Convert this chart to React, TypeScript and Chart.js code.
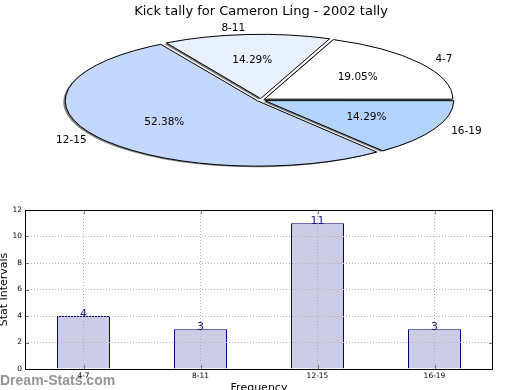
import React, { useEffect, useRef } from 'react';
import { Chart, registerables } from 'chart.js';

Chart.register(...registerables);
Chart.defaults.font.family = '"DejaVu Sans", sans-serif';
Chart.defaults.color = '#000';

// ---- data ----
const chartTitle = 'Kick tally for Cameron Ling - 2002 tally';
const categories = ['4-7', '8-11', '12-15', '16-19'];
const counts = [4, 3, 11, 3];
const sliceColors = ['#ffffff', '#e9f0ff', '#c4d8ff', '#b3d4ff'];
const yTickValues = [0, 2, 4, 6, 8, 10, 12];
const yAxisTitle = 'Stat Intervals';
const xAxisTitle = 'Frequency';
const watermarkText = 'Dream-Stats.com';

// pie drawn counter-clockwise from east in the original -> reverse for Chart.js (clockwise)
const pieLabels = categories.slice().reverse();
const pieValues = counts.slice().reverse();
const pieColors = sliceColors.slice().reverse();

const SQUISH = 0.34;

const squishPlugin: any = {
  id: 'squish',
  beforeDatasetsDraw(chart: any) {
    const ctx = chart.ctx;
    const el = chart.getDatasetMeta(0).data[0];
    const cx = el.x, cy = el.y;
    ctx.save();
    const base = ctx.getTransform();
    ctx.translate(cx, cy);
    ctx.scale(1, SQUISH);
    ctx.translate(-cx, -cy);
    ctx.shadowColor = 'rgba(0,0,0,0.5)';
    ctx.shadowOffsetX = -2;
    ctx.shadowOffsetY = 1;
    ctx.shadowBlur = 0;
    const orig = CanvasRenderingContext2D.prototype.stroke;
    ctx.stroke = function (...args: any[]) {
      const t = this.getTransform();
      const sc = this.shadowColor;
      this.setTransform(base);
      this.shadowColor = 'rgba(0,0,0,0)';
      orig.apply(this, args);
      this.shadowColor = sc;
      this.setTransform(t);
    };
  },
  afterDatasetsDraw(chart: any) {
    const ctx = chart.ctx;
    delete ctx.stroke;
    ctx.restore();
    const meta = chart.getDatasetMeta(0);
    const data: number[] = chart.data.datasets[0].data;
    const labels: string[] = chart.data.labels;
    const total = data.reduce((s, v) => s + v, 0);
    ctx.save();
    ctx.fillStyle = '#000';
    ctx.font = '10.5px "DejaVu Sans"';
    ctx.textBaseline = 'middle';
    meta.data.forEach((el: any, i: number) => {
      const a = (el.startAngle + el.endAngle) / 2;
      const off = (el.options.offset || 0) / 4;
      const R = el.outerRadius;
      const ca = Math.cos(a), sa = Math.sin(a);
      // outer label
      const lr = off + 1.1 * R;
      ctx.textAlign = ca > 0 ? 'left' : 'right';
      ctx.fillText(labels[i], el.x + ca * lr, el.y + SQUISH * sa * lr);
      // percent
      const pr = off + 0.6 * R;
      ctx.textAlign = 'center';
      ctx.fillText(((data[i] / total) * 100).toFixed(2) + '%', el.x + ca * pr, el.y + SQUISH * sa * pr);
    });
    ctx.restore();
  },
};

const barDecor: any = {
  id: 'barDecor',
  afterDraw(chart: any) {
    const ctx = chart.ctx;
    const { left, right, top, bottom } = chart.chartArea;
    ctx.save();
    // inner tick marks
    ctx.strokeStyle = '#777';
    ctx.lineWidth = 1;
    const ys = chart.scales.y;
    ys.ticks.forEach((t: any) => {
      const py = Math.round(ys.getPixelForValue(t.value)) + 0.5;
      ctx.beginPath();
      ctx.moveTo(left, py); ctx.lineTo(left + 4, py);
      ctx.moveTo(right, py); ctx.lineTo(right - 4, py);
      ctx.stroke();
    });
    const xs = chart.scales.x;
    xs.ticks.forEach((t: any, i: number) => {
      const px = Math.round(xs.getPixelForTick(i)) + 0.5;
      ctx.beginPath();
      ctx.moveTo(px, bottom); ctx.lineTo(px, bottom - 4);
      ctx.moveTo(px, top); ctx.lineTo(px, top + 4);
      ctx.stroke();
    });
    // axes box
    ctx.strokeStyle = '#000';
    ctx.strokeRect(left + 0.5, top + 0.5, right - left - 1, bottom - top);
    // value labels
    const meta = chart.getDatasetMeta(0);
    const data: number[] = chart.data.datasets[0].data;
    ctx.fillStyle = '#1a1a8c';
    ctx.font = '11px "DejaVu Sans"';
    ctx.textAlign = 'center';
    ctx.textBaseline = 'alphabetic';
    meta.data.forEach((el: any, i: number) => {
      ctx.fillText(String(data[i]), el.x, el.y + 0.5);
    });
    // watermark
    ctx.fillStyle = 'rgba(130,130,130,0.85)';
    ctx.font = 'bold 14px "Liberation Sans"';
    ctx.textAlign = 'left';
    ctx.fillText(watermarkText, 0, 185);
    ctx.restore();
  },
};

export default function App() {
  const pieRef = useRef<HTMLCanvasElement>(null);
  const barRef = useRef<HTMLCanvasElement>(null);

  useEffect(() => {
    const pie = new Chart(pieRef.current as HTMLCanvasElement, {
      type: 'pie',
      data: {
        labels: pieLabels,
        datasets: [
          {
            data: pieValues,
            backgroundColor: pieColors,
            borderColor: '#000',
            borderWidth: 1,
            offset: 17,
            borderJoinStyle: 'miter',
            clip: false,
          } as any,
        ],
      },
      options: {
        responsive: false,
        animation: false,
        events: [],
        rotation: 90,
        radius: 188,
        layout: { padding: { left: 2, right: 0, top: 0, bottom: 21.6 } },
        plugins: {
          legend: { display: false },
          tooltip: { enabled: false },
          title: {
            display: true,
            text: chartTitle,
            color: '#000',
            font: { size: 13, weight: 'normal', family: '"DejaVu Sans"' },
            padding: { top: 4, bottom: 2 },
          },
        },
      } as any,
      plugins: [squishPlugin],
    });

    const bar = new Chart(barRef.current as HTMLCanvasElement, {
      type: 'bar',
      data: {
        labels: categories,
        datasets: [
          {
            data: counts,
            backgroundColor: '#ccccE6',
            borderColor: '#000080',
            borderWidth: 1,
            barPercentage: 0.453,
            categoryPercentage: 1,
          },
        ],
      },
      options: {
        responsive: false,
        animation: false,
        events: [],
        layout: { padding: { left: 0, right: 27, top: 10, bottom: 0 } },
        plugins: { legend: { display: false }, tooltip: { enabled: false } },
        scales: {
          x: {
            offset: true,
            grid: { offset: false, color: '#b0b0b0', drawTicks: false, z: 1 },
            border: { display: false, dash: [1, 2] },
            ticks: { font: { size: 7.5 }, color: '#000', padding: 3 },
            title: {
              display: true,
              text: xAxisTitle,
              color: '#000',
              font: { size: 11, lineHeight: 1 },
              padding: { top: 0, bottom: 0 },
            },
            afterFit(s: any) { s.height = 25; },
          },
          y: {
            min: 0,
            max: 12,
            afterBuildTicks(s: any) { s.ticks = yTickValues.map((v) => ({ value: v })); },
            grid: { color: '#b0b0b0', drawTicks: false, z: 1 },
            border: { display: false, dash: [1, 2] },
            ticks: { font: { size: 7.5 }, color: '#000', padding: 3 },
            title: {
              display: true,
              text: yAxisTitle,
              color: '#000',
              font: { size: 11, lineHeight: 1 },
              padding: { top: -1, bottom: 0 },
            },
            afterFit(s: any) { s.width = 25; },
          },
        },
      } as any,
      plugins: [barDecor],
    });

    return () => {
      pie.destroy();
      bar.destroy();
    };
  }, []);

  return (
    <div style={{ position: 'absolute', left: 0, top: 0, width: 520, height: 390, background: '#fff', overflow: 'hidden' }}>
      <canvas ref={pieRef} width={520} height={200} style={{ position: 'absolute', left: 0, top: 0 }} />
      <canvas ref={barRef} width={520} height={194} style={{ position: 'absolute', left: 0, top: 200 }} />
    </div>
  );
}
